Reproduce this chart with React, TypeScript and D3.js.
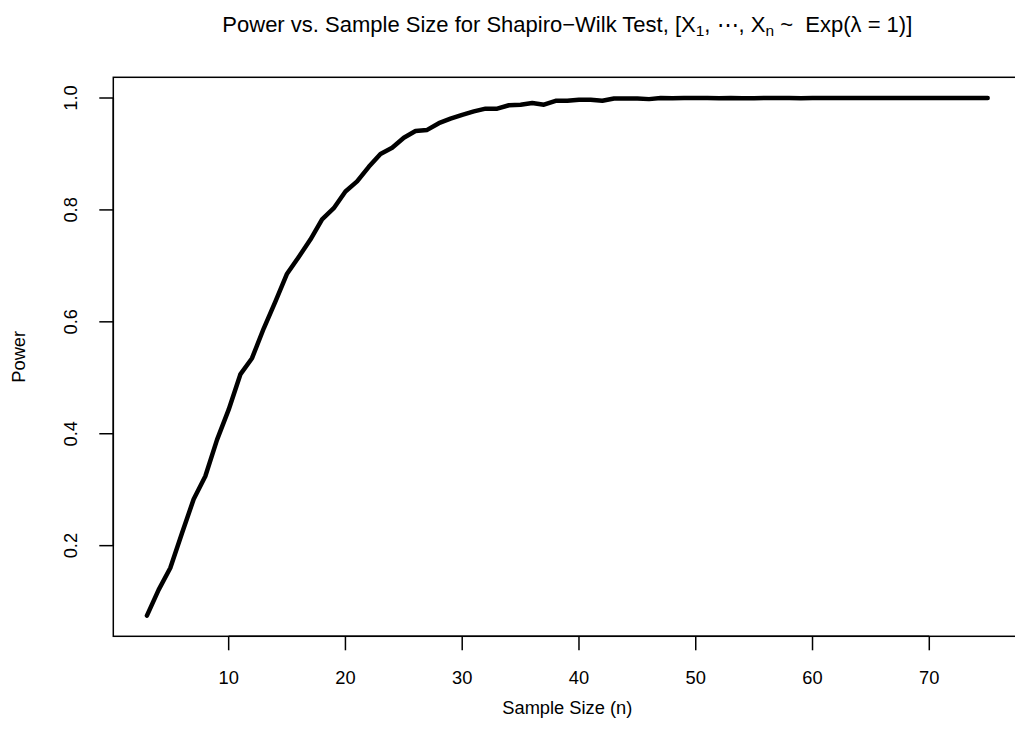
import React from "react";
import * as d3 from "d3";

const sampleSizes: number[] = d3.range(3, 76);
const powerValues: number[] = [
  0.075, 0.121, 0.160, 0.222, 0.283, 0.324, 0.389, 0.443, 0.506, 0.535,
  0.588, 0.636, 0.686, 0.716, 0.747, 0.783, 0.803, 0.833, 0.851, 0.877,
  0.900, 0.911, 0.929, 0.941, 0.943, 0.955, 0.963, 0.970, 0.976, 0.981,
  0.981, 0.987, 0.988, 0.991, 0.988, 0.995, 0.995, 0.997, 0.997, 0.995,
  0.999, 0.999, 0.999, 0.998, 1.0, 0.9995, 1.0, 1.0, 1.0, 0.9995,
  1.0, 0.9995, 0.9995, 1.0, 1.0, 1.0, 0.9995, 1.0, 1.0, 1.0,
  1.0, 1.0, 1.0, 1.0, 1.0, 1.0, 1.0, 1.0, 1.0, 1.0,
  1.0, 1.0, 1.0,
];
const xTicks: number[] = [10, 20, 30, 40, 50, 60, 70];
const yTicks: number[] = [0.2, 0.4, 0.6, 0.8, 1.0];

const W = 1015;
const H = 747;
const plotLeft = 113.3;
const plotRight = 1021.3;
const plotTop = 77.3;
const plotBottom = 636.3;
const FONT = "'Liberation Sans', Arial, Helvetica, sans-serif";

function rExtend(lo: number, hi: number): [number, number] {
  const d = (hi - lo) * 0.04;
  return [lo - d, hi + d];
}

export default function App() {
  const xDom = rExtend(d3.min(sampleSizes)!, d3.max(sampleSizes)!);
  const yDom = rExtend(d3.min(powerValues)!, d3.max(powerValues)!);
  const x = d3.scaleLinear().domain(xDom).range([plotLeft, plotRight]);
  const y = d3.scaleLinear().domain(yDom).range([plotBottom, plotTop]);
  const pts: [number, number][] = sampleSizes.map((n, i) => [n, powerValues[i]]);
  const line = d3
    .line<[number, number]>()
    .x((d) => x(d[0]))
    .y((d) => y(d[1]));
  const tickLen = 14;
  const fs = 18.3;
  return (
    <svg
      width={W}
      height={H}
      style={{ position: "absolute", left: 0, top: 0, background: "#fff" }}
      fontFamily={FONT}
    >
      <rect x={0} y={0} width={W} height={H} fill="#fff" />
      <text x={(plotLeft + plotRight) / 2} y={32} fontSize={22} textAnchor="middle" fill="#000">
        Power vs. Sample Size for Shapiro−Wilk Test, [X
        <tspan dy={4} fontSize={15.5}>1</tspan>
        <tspan dy={-4}>, ⋯, X</tspan>
        <tspan dy={4} fontSize={15.5}>n</tspan>
        <tspan dy={-4} xmlSpace="preserve">{" ~  Exp(λ = 1)]"}</tspan>
      </text>
      <path d={line(pts) || ""} fill="none" stroke="#000" strokeWidth={4.5} strokeLinejoin="round" strokeLinecap="round" />
      <rect
        x={plotLeft}
        y={plotTop}
        width={plotRight - plotLeft}
        height={plotBottom - plotTop}
        fill="none"
        stroke="#000"
        strokeWidth={1.5}
      />
      {/* x axis */}
      <line x1={x(xTicks[0])} x2={x(xTicks[xTicks.length - 1])} y1={plotBottom} y2={plotBottom} stroke="#000" strokeWidth={1.5} />
      {xTicks.map((t) => (
        <g key={"x" + t}>
          <line x1={x(t)} x2={x(t)} y1={plotBottom} y2={plotBottom + tickLen} stroke="#000" strokeWidth={1.5} />
          <text x={x(t)} y={683.5} fontSize={fs} textAnchor="middle" fill="#000">
            {t}
          </text>
        </g>
      ))}
      {/* y axis */}
      <line x1={plotLeft} x2={plotLeft} y1={y(yTicks[0])} y2={y(yTicks[yTicks.length - 1])} stroke="#000" strokeWidth={1.5} />
      {yTicks.map((t) => (
        <g key={"y" + t}>
          <line x1={plotLeft - tickLen} x2={plotLeft} y1={y(t)} y2={y(t)} stroke="#000" strokeWidth={1.5} />
          <text
            transform={`translate(77,${y(t)}) rotate(-90)`}
            fontSize={fs}
            textAnchor="middle"
            fill="#000"
          >
            {t.toFixed(1)}
          </text>
        </g>
      ))}
      <text x={(plotLeft + plotRight) / 2} y={714} fontSize={fs} textAnchor="middle" fill="#000">
        Sample Size (n)
      </text>
      <text
        transform={`translate(25,${(plotTop + plotBottom) / 2}) rotate(-90)`}
        fontSize={fs}
        textAnchor="middle"
        fill="#000"
      >
        Power
      </text>
    </svg>
  );
}
